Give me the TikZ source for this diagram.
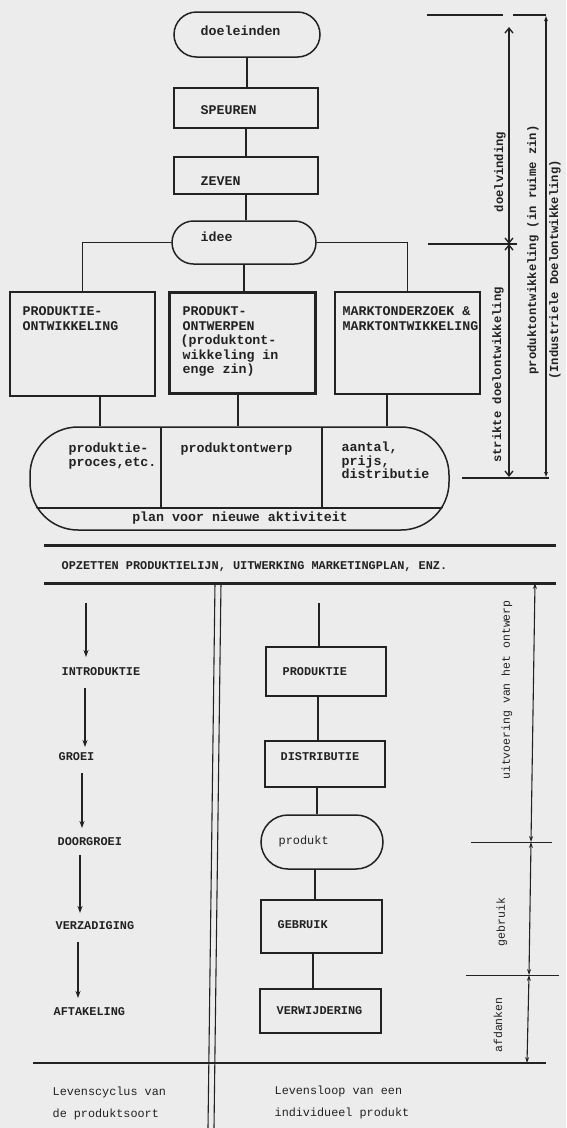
\documentclass[tikz,border=0pt]{standalone}
\usepackage{fontspec}
\setmainfont{Liberation Mono}
\usetikzlibrary{arrows.meta,shapes.misc}

\definecolor{paper}{RGB}{236,236,236}
\definecolor{ink}{RGB}{34,34,34}

\begin{document}
\begin{tikzpicture}[x=1pt,y=-1pt,line width=1.35pt,color=ink,
  box/.style={draw=ink,rectangle,inner sep=0pt,line width=1.5pt},
  pill/.style={draw=ink,rounded rectangle,inner sep=0pt,line width=1.5pt},
  tbig/.style={font=\bfseries\fontsize{13.3}{14.3}\selectfont,anchor=mid west,inner sep=0pt,text=ink},
  tlow/.style={font=\bfseries\fontsize{11.9}{13}\selectfont,anchor=mid west,inner sep=0pt,text=ink},
  tfoot/.style={font=\fontsize{11.8}{13}\selectfont,anchor=mid west,inner sep=0pt,text=ink},
  vlab/.style={font=\bfseries\fontsize{12.2}{13}\selectfont,rotate=90,inner sep=0pt,text=ink},
  vlow/.style={font=\fontsize{11.5}{13}\selectfont,rotate=90,inner sep=0pt,text=ink},
  barb/.style={{Straight Barb[length=5pt,width=8pt]}-{Straight Barb[length=5pt,width=8pt]}},
  dim/.style={{Stealth[length=6pt,width=4pt]}-{Stealth[length=6pt,width=4pt]}},
  down/.style={-{Stealth[length=7pt,width=5pt]}},
  heavy/.style={line width=3pt}]

\fill[paper] (0,0) rectangle (566,1128);
\useasboundingbox (0,0) rectangle (566,1128);

% ---------- goal finding chain ----------
\node[pill,minimum width=146pt,minimum height=45pt] (doel) at (247,34.5) {};
\node[tbig] (tdoel) at (200,33) {doeleinden};
\node[box,minimum width=144pt,minimum height=40pt] (speuren) at (246,108) {};
\node[tbig] (tspeuren) at (200,112) {SPEUREN};
\node[box,minimum width=144pt,minimum height=37pt] (zeven) at (246,175.5) {};
\node[tbig] (tzeven) at (200,183) {ZEVEN};
\node[pill,minimum width=144pt,minimum height=43pt] (idee) at (244,242.5) {};
\node[tbig] (tidee) at (200,239) {idee};

\draw (doel.south) -- (doel.south |- speuren.north);
\draw (speuren.south) -- (speuren.south |- zeven.north);
\draw (zeven.south) -- (zeven.south |- idee.north);

% ---------- three development tracks ----------
\node[box,minimum width=145pt,minimum height=104pt] (box1) at (82.5,344) {};
\node[box,line width=3pt,minimum width=146pt,minimum height=101pt] (box2) at (242,342.5) {};
\node[box,minimum width=145pt,minimum height=102pt] (box3) at (407.5,343) {};

\node[tbig] (b1a) at (22,313) {PRODUKTIE-};
\node[tbig] (b1b) at (22,328) {ONTWIKKELING};
\node[tbig] (b2a) at (182,313) {PRODUKT-};
\node[tbig] (b2b) at (182,327.5) {ONTWERPEN};
\node[tbig] (b2c) at (180,342) {(produktont-};
\node[tbig] (b2d) at (182,356.5) {wikkeling in};
\node[tbig] (b2e) at (182,370.5) {enge zin)};
\node[tbig] (b3a) at (342,313) {MARKTONDERZOEK \&};
\node[tbig] (b3b) at (342,328) {MARKTONTWIKKELING};

\draw (idee.west) -| (box1.north);
\draw (idee.east) -| (box3.north);
\draw (idee.south) -- (idee.south |- box2.north);

% ---------- plan for a new activity ----------
\node[draw=ink,rectangle,rounded corners=48pt,line width=1.5pt,inner sep=0pt,
      minimum width=419pt,minimum height=103pt] (plan) at (239.5,478.5) {};
\begin{scope}
  \path[clip,rounded corners=48pt] (plan.south west) rectangle (plan.north east);
  \coordinate (planL) at (20,508);
  \coordinate (planR) at (460,508);
  \draw (planL) -- (planR);
  \coordinate (div1) at (161,427);
  \coordinate (div2) at (322,427);
  \draw (div1) -- (div1 |- planL);
  \draw (div2) -- (div2 |- planL);
\end{scope}

\coordinate (k1) at (100,0);
\coordinate (k2) at (238,0);
\coordinate (k3) at (387,0);
\draw (box1.south -| k1) -- (plan.north -| k1);
\draw (box2.south -| k2) -- (plan.north -| k2);
\draw (box3.south -| k3) -- (plan.north -| k3);

\node[tbig] (p1a) at (68,450) {produktie-};
\node[tbig] (p1b) at (68,463.5) {proces,etc.};
\node[tbig] (p2a) at (180,450) {produktontwerp};
\node[tbig] (p3a) at (341,449) {aantal,};
\node[tbig] (p3b) at (341,462.5) {prijs,};
\node[tbig] (p3c) at (341,476) {distributie};
\node[tbig,anchor=mid] (p4) at (240,519) {plan voor nieuwe aktiviteit};

% ---------- dimensions of the upper part ----------
\coordinate (t1) at (427,15);
\coordinate (t2) at (503,15);
\coordinate (t3) at (513,15);
\coordinate (t4) at (546,15);
\draw (t1) -- (t2);
\draw (t3) -- (t4);
\coordinate (L1) at (546,478);
\draw[{Latex[length=6pt,width=4pt]}-{Latex[length=6pt,width=4pt]}] (L1) -- (t4);

\coordinate (d0) at (509,27);
\coordinate (d1) at (509,244);
\coordinate (d2) at (509,477);
\draw[barb] (d0) -- (d1);
\draw[barb] (d1) -- (d2);
\coordinate (j1) at (428,244);
\coordinate (j2) at (517,244);
\draw (j1) -- (j2);
\coordinate (e1) at (462,478);
\coordinate (e2) at (549,478);
\draw (e1) -- (e2);

\node[vlab] (ldoel) at (500,172) {doelvinding};
\node[vlab] (lstrikt) at (498,375) {strikte doelontwikkeling};
\node[vlab] (lruim) at (533,250) {produktontwikkeling (in ruime zin)};
\node[vlab] (lind) at (555,270) {(Industriele Doelontwikkeling)};

% ---------- production set-up band ----------
\coordinate (h1a) at (44,545);
\coordinate (h1b) at (556,545);
\coordinate (h2a) at (44,583);
\coordinate (h2b) at (556,583);
\draw[heavy] (h1a) -- (h1b);
\draw[heavy] (h2a) -- (h2b);
\node[tlow] (opz) at (61,567) {OPZETTEN PRODUKTIELIJN, UITWERKING MARKETINGPLAN, ENZ.};

% double separating rule
\coordinate (s1a) at (215,583);
\coordinate (s1b) at (208,1128);
\coordinate (s2a) at (221,583);
\coordinate (s2b) at (214,1128);
\draw[line width=1.1pt] (s1a) -- (s1b);
\draw[line width=1.1pt] (s2a) -- (s2b);

% ---------- life cycle of the product type ----------
\node[tlow] (intro) at (61,673) {INTRODUKTIE};
\node[tlow] (groei) at (58,758) {GROEI};
\node[tlow] (door) at (57,843) {DOORGROEI};
\node[tlow] (verz) at (55,927) {VERZADIGING};
\node[tlow] (aft) at (53,1013) {AFTAKELING};

\coordinate (a1s) at (86,603);  \coordinate (a1e) at (86,657);
\coordinate (a2s) at (85,688);  \coordinate (a2e) at (85,747);
\coordinate (a3s) at (82,773);  \coordinate (a3e) at (82,828);
\coordinate (a4s) at (80,855);  \coordinate (a4e) at (80,913);
\coordinate (a5s) at (78,942);  \coordinate (a5e) at (78,998);
\draw[down,line width=1.1pt] (a1s) -- (a1e);
\draw[down,line width=1.1pt] (a2s) -- (a2e);
\draw[down,line width=1.1pt] (a3s) -- (a3e);
\draw[down,line width=1.1pt] (a4s) -- (a4e);
\draw[down,line width=1.7pt] (a5s) -- (a5e);

% ---------- life of an individual product ----------
\node[box,minimum width=120pt,minimum height=49pt] (produktie) at (326,671.5) {};
\node[tlow] (tproduktie) at (282,673) {PRODUKTIE};
\node[box,minimum width=120pt,minimum height=46pt] (distr) at (325,764) {};
\node[tlow] (tdistr) at (280,758) {DISTRIBUTIE};
\node[pill,minimum width=122pt,minimum height=54pt] (produkt) at (322,842) {};
\node[tlow,font=\fontsize{11.9}{13}\selectfont] (tprodukt) at (278,842) {produkt};
\node[box,minimum width=121pt,minimum height=53pt] (gebruik) at (321.5,926.5) {};
\node[tlow] (tgebruik) at (277,926) {GEBRUIK};
\node[box,minimum width=121pt,minimum height=44pt] (verw) at (320.5,1011) {};
\node[tlow] (tverw) at (276,1012) {VERWIJDERING};

\coordinate (r0) at (319,603);
\coordinate (r1) at (318,0);
\coordinate (r2) at (317,0);
\coordinate (r3) at (315,0);
\coordinate (r4) at (313,0);
\draw[line width=1.1pt] (r0) -- (r0 |- produktie.north);
\draw[line width=1.1pt] (produktie.south -| r1) -- (distr.north -| r1);
\draw[line width=1.1pt] (distr.south -| r2) -- (produkt.north -| r2);
\draw[line width=1.1pt] (produkt.south -| r3) -- (gebruik.north -| r3);
\draw[line width=1.1pt] (gebruik.south -| r4) -- (verw.north -| r4);

% ---------- dimensions of the lower part ----------
\coordinate (u0) at (535,583);
\coordinate (u1) at (531,842);
\coordinate (u2) at (529,975);
\coordinate (u3) at (527,1063);
\draw[dim,line width=1.1pt] (u0) -- (u1);
\draw[dim,line width=1.1pt] (u1) -- (u2);
\draw[dim,line width=1.1pt] (u2) -- (u3);
\coordinate (m1a) at (471,842);
\coordinate (m1b) at (552,842);
\coordinate (m2a) at (466,975);
\coordinate (m2b) at (559,975);
\draw[line width=0.9pt] (m1a) -- (m1b);
\draw[line width=0.9pt] (m2a) -- (m2b);

\node[vlow] (luitv) at (507,690) {uitvoering van het ontwerp};
\node[vlow] (lgebr) at (502,922) {gebruik};
\node[vlow] (lafd) at (498,1025) {afdanken};

\coordinate (f1) at (33,1063);
\coordinate (f2) at (546,1063);
\draw[line width=2pt] (f1) -- (f2);

\node[tfoot] (cyc1) at (52,1093) {Levenscyclus van};
\node[tfoot] (cyc2) at (52,1115) {de produktsoort};
\node[tfoot] (loop1) at (274,1092) {Levensloop van een};
\node[tfoot] (loop2) at (274,1114) {individueel produkt};

\end{tikzpicture}
\end{document}
